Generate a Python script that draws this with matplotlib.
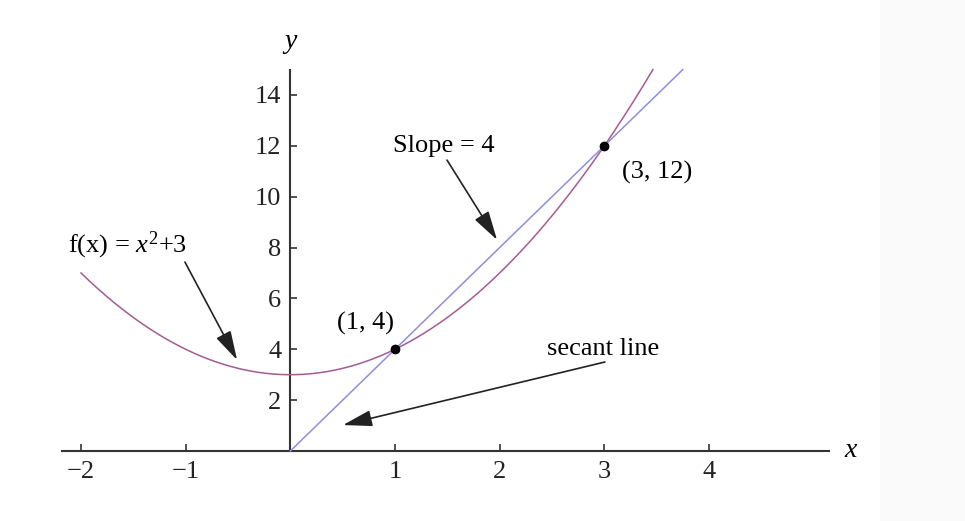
import numpy as np
import matplotlib
matplotlib.use("Agg")
import matplotlib.pyplot as plt
from matplotlib.patches import Rectangle

plt.rcParams['font.family'] = ['Liberation Serif', 'DejaVu Serif']
plt.rcParams['mathtext.fontset'] = 'custom'
plt.rcParams['mathtext.rm'] = 'Liberation Serif'
plt.rcParams['mathtext.it'] = 'Liberation Serif:italic'

# Data
curve_x_range = (-2.0, np.sqrt(12.0))
secant_x_range = (0.0, 3.75)
points_x = [1, 3]
points_y = [4, 12]
point_labels = ["(1, 4)", "(3, 12)"]
x_ticks = [-2, -1, 1, 2, 3, 4]
y_ticks = [2, 4, 6, 8, 10, 12, 14]

curve_color = '#A35C93'
line_color = '#8E8EDC'
axis_color = '#333333'

fig = plt.figure(figsize=(9.65, 5.21), dpi=100)
fig.patches.append(Rectangle((880/965, 0), 1 - 880/965, 1, transform=fig.transFigure,
                             facecolor='#FAFAFA', edgecolor='none', zorder=0))
ax = fig.add_axes([0, 0, 1, 1])
ax.patch.set_alpha(0)
ax.set_xlim(-2.774, 6.446)
ax.set_ylim(-2.753, 17.735)

xc = np.linspace(*curve_x_range, 400)
ax.plot(xc, xc**2 + 3, color=curve_color, lw=1.1, zorder=3)
xs = np.linspace(*secant_x_range, 10)
ax.plot(xs, 4 * xs, color=line_color, lw=1.1, zorder=3)
ax.plot(points_x, points_y, 'o', color='black', ms=6, zorder=5)

# axes
for s in ['top', 'right']:
    ax.spines[s].set_visible(False)
ax.spines['left'].set_position(('data', 0))
ax.spines['bottom'].set_position(('data', 0))
ax.spines['left'].set_bounds(0, 15.0)
ax.spines['bottom'].set_bounds(-2.18, 5.15)
for s in ['left', 'bottom']:
    ax.spines[s].set_color(axis_color)
    ax.spines[s].set_linewidth(1.5)
ax.set_xticks(x_ticks)
ax.set_xticklabels([str(t).replace('-', '\u2212') for t in x_ticks])
ax.set_yticks(y_ticks)
ax.set_yticklabels([str(t) for t in y_ticks])
ax.tick_params(axis='both', direction='in', length=5, width=1.2, color=axis_color,
               labelsize=19, labelcolor='#222222')
ax.tick_params(axis='x', pad=7.5)
ax.tick_params(axis='y', pad=6.5)

ax.text(5.35, 0.0, 'x', style='italic', fontsize=20, ha='center', va='center')
ax.text(0.0, 16.1, 'y', style='italic', fontsize=20, ha='center', va='center')

tfs = 19
ax.text(-1.56, 8.1, r'f(x) = $x^2$+3', fontsize=tfs, ha='center', va='center')
ax.text(1.47, 12.0, 'Slope = 4', fontsize=tfs, ha='center', va='center')
ax.text(3.50, 10.97, point_labels[1], fontsize=tfs, ha='center', va='center')
ax.text(0.72, 5.03, point_labels[0], fontsize=tfs, ha='center', va='center')
ax.text(2.99, 4.01, 'secant line', fontsize=tfs, ha='center', va='center')

aprops = dict(arrowstyle='-|>,head_length=1.8,head_width=0.5', color='#222222', lw=1.2,
              shrinkA=0, shrinkB=0)
ax.annotate('', xy=(-0.509, 3.58), xytext=(-1.007, 7.43), arrowprops=aprops)
ax.annotate('', xy=(1.975, 8.30), xytext=(1.497, 11.44), arrowprops=aprops)
ax.annotate('', xy=(0.503, 1.02), xytext=(3.006, 3.50), arrowprops=aprops)

fig.savefig('out.png', dpi=100)
